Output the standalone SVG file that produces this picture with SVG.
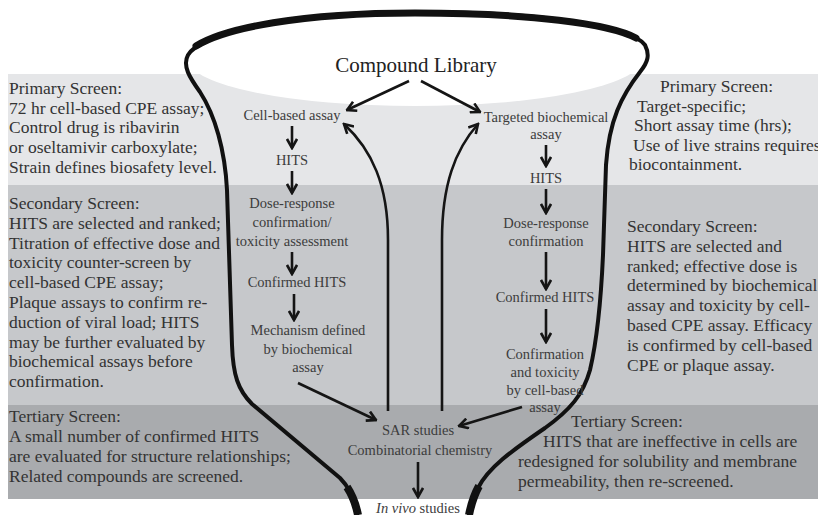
<svg xmlns="http://www.w3.org/2000/svg" width="818" height="515" viewBox="0 0 818 515">
<defs>
<marker id="ah" viewBox="0 0 12 12" refX="10.5" refY="6" markerWidth="12" markerHeight="12" markerUnits="userSpaceOnUse" orient="auto">
<path d="M1.5,1 L10.5,6 L1.5,11" fill="none" stroke="#151515" stroke-width="2.6" stroke-linejoin="miter"/>
</marker>
</defs>
<style>
.side{font-family:"Liberation Serif","Times New Roman",serif;font-size:17.5px;fill:#333;}
.lab{font-family:"Liberation Serif","Times New Roman",serif;font-size:14.5px;fill:#3c3c3c;text-anchor:middle;}
.title{font-family:"Liberation Serif","Times New Roman",serif;font-size:21px;fill:#222;text-anchor:middle;}
.arr{fill:none;stroke:#151515;stroke-width:2.6;marker-end:url(#ah);}
.wall{fill:none;stroke:#111;stroke-width:4;stroke-linejoin:round;stroke-linecap:round;}
</style>
<rect width="818" height="515" fill="#fff"/>
<g id="bands">
<rect x="8" y="74" width="810" height="111" fill="#e5e6e8"/>
<rect x="8" y="185" width="810" height="220" fill="#c6c8cb"/>
<rect x="8" y="405" width="810" height="94" fill="#a9abae"/>
</g>
<g id="funnel">
<ellipse cx="415" cy="60" rx="226" ry="46" fill="#fff"/>
<path class="wall" d="M357,515 C355,500 350,488 340,478 L252,404 C238,390 233,375 232,345 L227,190 C225,150 215,115 200,92 C190,78 182,66 188,55 C200,35 280,12 415,12 C540,12 630,25 645,45 C650,55 648,62 640,72 C622,95 609,120 606,165 L603,255 C601,300 597,340 590,370 C583,395 570,410 545,428 C510,452 488,468 478,488 L469,515"/>
<path fill="none" stroke="#111" stroke-width="7" stroke-linecap="round" d="M196,46 C225,28 300,13 415,13 C530,13 610,24 636,38"/>
<path fill="none" stroke="#111" stroke-width="8" d="M347,487 C353,496 356,505 358,515"/>
<path fill="none" stroke="#111" stroke-width="8" d="M479,486 C474,495 471,505 469,515"/>
</g>
<g id="compound-library"><text class="title" x="416" y="72">Compound Library</text></g>
<g id="primary-left">
<text class="side" x="9" y="94">Primary Screen:</text>
<text class="side" x="9" y="113.7">72 hr cell-based CPE assay;</text>
<text class="side" x="9" y="133.4">Control drug is ribavirin</text>
<text class="side" x="9" y="153.1">or oseltamivir carboxylate;</text>
<text class="side" x="9" y="172.8">Strain defines biosafety level.</text>
</g>
<g id="secondary-left">
<text class="side" x="9" y="209">Secondary Screen:</text>
<text class="side" x="9" y="228.8">HITS are selected and ranked;</text>
<text class="side" x="9" y="248.6">Titration of effective dose and</text>
<text class="side" x="9" y="268.4">toxicity counter-screen by</text>
<text class="side" x="9" y="288.2">cell-based CPE assay;</text>
<text class="side" x="9" y="308">Plaque assays to confirm re-</text>
<text class="side" x="9" y="327.8">duction of viral load; HITS</text>
<text class="side" x="9" y="347.6">may be further evaluated by</text>
<text class="side" x="9" y="367.4">biochemical assays before</text>
<text class="side" x="9" y="387.2">confirmation.</text>
</g>
<g id="tertiary-left">
<text class="side" x="9" y="422">Tertiary Screen:</text>
<text class="side" x="9" y="442">A small number of confirmed HITS</text>
<text class="side" x="9" y="462">are evaluated for structure relationships;</text>
<text class="side" x="9" y="482">Related compounds are screened.</text>
</g>
<g id="primary-right">
<text class="side" x="660" y="92">Primary Screen:</text>
<text class="side" x="637" y="111.5">Target-specific;</text>
<text class="side" x="634" y="131">Short assay time (hrs);</text>
<text class="side" x="633" y="150.5">Use of live strains requires</text>
<text class="side" x="629" y="170">biocontainment.</text>
</g>
<g id="secondary-right">
<text class="side" x="627" y="232">Secondary Screen:</text>
<text class="side" x="627" y="251.8">HITS are selected and</text>
<text class="side" x="627" y="271.6">ranked; effective dose is</text>
<text class="side" x="627" y="291.4">determined by biochemical</text>
<text class="side" x="627" y="311.2">assay and toxicity by cell-</text>
<text class="side" x="627" y="331">based CPE assay.  Efficacy</text>
<text class="side" x="627" y="350.8">is confirmed by cell-based</text>
<text class="side" x="627" y="370.6">CPE or plaque assay.</text>
</g>
<g id="tertiary-right">
<text class="side" x="571" y="427">Tertiary Screen:</text>
<text class="side" x="543" y="447">HITS that are ineffective in cells are</text>
<text class="side" x="518" y="467">redesigned for solubility and membrane</text>
<text class="side" x="518" y="487">permeability, then re-screened.</text>
</g>
<g id="cell-based-assay"><text class="lab" x="292" y="120">Cell-based assay</text></g>
<g id="hits-left"><text class="lab" x="292" y="165">HITS</text></g>
<g id="dose-response-left">
<text class="lab" x="292" y="208">Dose-response</text>
<text class="lab" x="292" y="227">confirmation/</text>
<text class="lab" x="292" y="246">toxicity assessment</text>
</g>
<g id="confirmed-hits-left"><text class="lab" x="297" y="287">Confirmed HITS</text></g>
<g id="mechanism"><text class="lab" x="308" y="335">Mechanism defined</text>
<text class="lab" x="308" y="354">by biochemical</text>
<text class="lab" x="308" y="372">assay</text></g>
<g id="targeted-assay">
<text class="lab" x="546" y="122">Targeted biochemical</text>
<text class="lab" x="546" y="139">assay</text>
</g>
<g id="hits-right"><text class="lab" x="546" y="183">HITS</text></g>
<g id="dose-response-right">
<text class="lab" x="546" y="228">Dose-response</text>
<text class="lab" x="546" y="246">confirmation</text>
</g>
<g id="confirmed-hits-right"><text class="lab" x="545" y="302">Confirmed HITS</text></g>
<g id="confirmation-toxicity">
<text class="lab" x="545" y="359">Confirmation</text>
<text class="lab" x="545" y="377">and toxicity</text>
<text class="lab" x="545" y="395">by cell-based</text>
<text class="lab" x="545" y="412">assay</text>
</g>
<g id="sar">
<text class="lab" x="418" y="435">SAR studies</text>
<text class="lab" x="420" y="455">Combinatorial chemistry</text>
</g>
<g id="in-vivo"><text class="lab" x="418" y="513"><tspan font-style="italic">In vivo</tspan> studies</text></g>
<g id="connectors">
<path class="arr" d="M409,81 L347,110"/>
<path class="arr" d="M421,81 L480,112"/>
<path class="arr" d="M292,126 L292,148"/>
<path class="arr" d="M292,171 L292,193"/>
<path class="arr" d="M292,252 L292,274"/>
<path class="arr" d="M294,294 L294,320"/>
<path class="arr" d="M298,383 L376,420"/>
<path class="arr" d="M546,145 L546,166"/>
<path class="arr" d="M546,189 L546,213"/>
<path class="arr" d="M546,252 L546,289"/>
<path class="arr" d="M546,309 L546,342"/>
<path class="arr" d="M522,407 L459,426"/>
<path class="arr" d="M418,462 L418,497"/>
<path class="arr" stroke-width="3" d="M388,411 L388,240 C388,185 372,150 344,124"/>
<path class="arr" stroke-width="3" d="M442,411 L442,240 C442,185 455,150 478,124"/>
</g>
</svg>
